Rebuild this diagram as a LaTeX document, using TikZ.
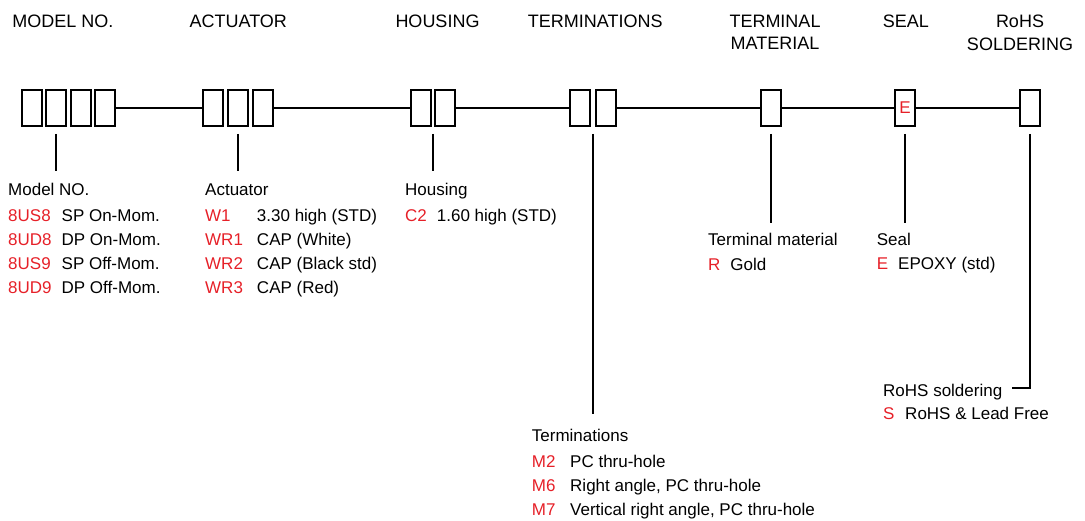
\documentclass[tikz,border=0pt]{standalone}
\usepackage{fontspec}
\setmainfont{Liberation Sans}
\usepackage{tikz}
\usetikzlibrary{matrix,positioning,calc}
\definecolor{partred}{RGB}{230,32,40}
\newcommand{\ttlfont}{\fontsize{18}{22.3}\selectfont}
\newcommand{\lstfont}{\fontsize{17}{24}\selectfont}
\tikzset{
  cell/.style={draw, line width=2pt, fill=white, minimum width=20pt, minimum height=36pt, inner sep=0pt, outer sep=0pt, font=\lstfont, text=partred},
  link/.style={line width=2pt},
  title/.style={anchor=north, inner sep=0pt, align=center, font=\ttlfont},
  head/.style={anchor=base west, inner sep=0pt, outer ysep=12pt, text height=12.5pt, text depth=3.5pt, font=\lstfont},
  codes/.style={matrix of nodes, inner sep=0pt, column sep=10pt, row sep=8pt, nodes={anchor=base west, inner sep=0pt, text height=12.5pt, text depth=3.5pt, font=\lstfont}, column 1/.style={nodes={text=partred}}}
}
\begin{document}
\begin{tikzpicture}[x=1pt, y=-1pt]
\useasboundingbox (0,0) rectangle (1085,521);
\node[title] (tmod) at (63,15) {MODEL NO.};
\node[title] (tact) at (238.3,15) {ACTUATOR};
\node[title] (thou) at (437.5,15) {HOUSING};
\node[title] (tter) at (595.3,15) {TERMINATIONS};
\node[title] (tmat) at (775,15) {TERMINAL\\MATERIAL};
\node[title] (tseal) at (905.8,15) {SEAL};
\node[title] (trohs) at (1020,15) {RoHS\\SOLDERING};
\foreach \i/\x in {1/32,2/56,3/81,4/105}
  \node[cell] (mod\i) at (\x,108) {};
\foreach \i in {1,2,3}
  \node[cell] (act\i) at ({188+25*\i},108) {};
\foreach \i in {1,2}
  \node[cell] (hou\i) at ({397+24*\i},108) {};
\foreach \i in {1,2}
  \node[cell] (ter\i) at ({554+26*\i},108) {};
\node[cell] (mat) at (771,108) {};
\node[cell] (seal) at (905,108) {E};
\node[cell] (rohs) at (1030,108) {};
\draw[link] (mod4) -- (act1) (act3) -- (hou1) (hou2) -- (ter1) (ter2) -- (mat) -- (seal) -- (rohs);
\coordinate[below=8pt of mod2] (modtap);
\coordinate[below=8pt of act2] (acttap);
\coordinate (houtap) at ($(hou1.south)!0.5!(hou2.south)+(0,8)$);
\coordinate (tertap) at ($(ter1.south)!0.5!(ter2.south)+(0,8)$);
\coordinate[below=8pt of mat] (mattap);
\coordinate[below=8pt of seal] (sealtap);
\coordinate[below=8pt of rohs] (rohstap);
\node[head] (mhdr) at (8,196) {Model NO.};
\matrix (mlist) [codes, below=12.5pt of mhdr.base west, anchor=north west] {
8US8 & SP On-Mom. \\
8UD8 & DP On-Mom. \\
8US9 & SP Off-Mom. \\
8UD9 & DP Off-Mom. \\
};
\node[head] (ahdr) at (205,196) {Actuator};
\matrix (alist) [codes, column sep=14pt, below=12.5pt of ahdr.base west, anchor=north west] {
W1 & 3.30 high (STD) \\
WR1 & CAP (White) \\
WR2 & CAP (Black std) \\
WR3 & CAP (Red) \\
};
\node[head] (hhdr) at (405,196) {Housing};
\matrix (hlist) [codes, below=12.5pt of hhdr.base west, anchor=north west] {
C2 & 1.60 high (STD) \\
};
\node[head, outer ysep=14pt] (thdr) at (531.7,441) {Terminations};
\matrix (tlist) [codes, column sep=14.7pt, below=13.5pt of thdr.base west, anchor=north west] {
M2 & PC thru-hole \\
M6 & Right angle, PC thru-hole \\
M7 & Vertical right angle, PC thru-hole \\
};
\node[head, outer ysep=10pt] (mthdr) at (708,245.5) {Terminal material};
\matrix (mtlist) [codes, below=12.5pt of mthdr.base west, anchor=north west] {
R & Gold \\
};
\node[head, outer ysep=10pt] (shdr) at (876.7,246) {Seal};
\matrix (slist) [codes, below=11pt of shdr.base west, anchor=north west] {
E & EPOXY (std) \\
};
\node[head] (rhdr) at (883,396.5) {RoHS soldering};
\matrix (rlist) [codes, column sep=10.7pt, below=10.5pt of rhdr.base west, anchor=north west] {
S & RoHS \& Lead Free \\
};
\draw[link] (modtap) -- (modtap |- mhdr.north);
\draw[link] (acttap) -- (acttap |- ahdr.north);
\draw[link] (houtap) -- (houtap |- hhdr.north);
\draw[link] (tertap) -- (tertap |- thdr.north);
\draw[link] (mattap) -- (mattap |- mthdr.north);
\draw[link] (sealtap) -- (sealtap |- shdr.north);
\draw[link] (rohstap) |- ([xshift=10pt,yshift=4pt]rhdr.east);
\end{tikzpicture}
\end{document}
